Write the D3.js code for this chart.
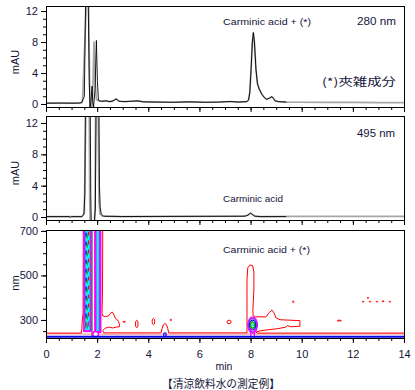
<!DOCTYPE html>
<html><head><meta charset="utf-8">
<script src="https://cdn.jsdelivr.net/npm/d3@7"></script>
<style>
body{margin:0;background:#fff}
svg{display:block}
text{font-family:"Liberation Sans",Arial,sans-serif;fill:#14143a}
</style>
</head><body>
<svg id="c" width="415" height="390"></svg>
<script>
// ---------- data ----------
const xTickLabels = [0,2,4,6,8,10,12,14];
const mauTicks = [0,4,8,12];
const nmTickLabels = [300,500,700];

// 280 nm chromatogram (time min, mAU)
const trace280Black = [[0,0.10],[0.6,0.12],[1.0,0.10],[1.30,0.12],[1.40,0.2],[1.50,1],[1.55,14],[1.65,14],[1.69,3],[1.72,-0.5],[1.76,0.3],[1.80,2.3],[1.83,0.3],[1.86,-0.4],[1.92,2],[1.97,8.2],[2.01,3],[2.05,0.5],[2.15,0.35],[2.35,0.4],[2.50,0.3],[2.62,0.4],[2.74,0.65],[2.86,0.35],[3.10,0.3],[3.30,0.35],[3.60,0.4],[3.80,0.28],[4.30,0.25],[5.00,0.22],[5.60,0.28],[6.20,0.22],[6.80,0.25],[7.20,0.32],[7.50,0.25],[7.85,0.3],[7.92,0.5],[7.97,1.5],[8.02,4.5],[8.07,8.0],[8.11,9.2],[8.15,8.0],[8.21,4.5],[8.27,2.6],[8.34,1.9],[8.45,1.2],[8.55,0.8],[8.63,0.6],[8.73,0.75],[8.83,0.95],[8.90,0.7],[8.96,0.4],[9.10,0.3],[9.40,0.25]];
const trace280Gray = [[0,0.10],[1.0,0.10],[1.40,0.15],[1.43,0.5],[1.59,14],[1.66,14],[1.71,2],[1.74,-0.6],[1.80,-0.6],[1.84,3],[1.88,8.0],[1.92,3],[1.97,0.6],[2.05,0.4],[2.15,0.35],[2.35,0.4],[2.50,0.3],[2.62,0.4],[2.74,0.65],[2.86,0.35],[3.10,0.3],[3.30,0.35],[3.60,0.4],[3.80,0.28],[4.30,0.25],[5.00,0.22],[5.60,0.28],[6.20,0.22],[6.80,0.25],[7.20,0.32],[7.50,0.25],[7.85,0.3],[7.92,0.5],[7.97,1.5],[8.02,4.5],[8.07,8.0],[8.11,9.2],[8.15,8.0],[8.21,4.5],[8.27,2.6],[8.34,1.9],[8.45,1.2],[8.55,0.8],[8.63,0.6],[8.73,0.75],[8.83,0.95],[8.90,0.7],[8.96,0.4],[9.10,0.3],[9.40,0.25],[10,0.22],[11,0.2],[12,0.2],[13,0.18],[14,0.18]];

// 495 nm chromatogram
const trace495Black = [[0,0.05],[0.9,0.05],[0.95,-0.03],[1.0,0.05],[1.40,0.05],[1.48,0.3],[1.52,3],[1.54,14],[1.73,14],[1.75,3],[1.77,-1],[1.88,-1],[1.93,1],[1.96,14],[2.07,14],[2.09,4],[2.12,1.2],[2.16,0.4],[2.25,0.1],[3.0,0.06],[7.7,0.1],[7.80,0.12],[7.90,0.25],[8.00,0.5],[8.08,0.3],[8.17,0.1],[8.40,0.05],[9.4,0.05]];
const trace495Gray = [[0,0.05],[1.40,0.05],[1.50,0.5],[1.56,14],[1.69,14],[1.71,2],[1.73,-1],[1.90,-1],[1.92,3],[1.94,14],[2.04,14],[2.07,2],[2.11,0.4],[2.2,0.1],[3.0,0.06],[7.7,0.1],[7.80,0.12],[7.90,0.25],[8.00,0.5],[8.08,0.3],[8.17,0.1],[8.40,0.05],[10,0.08],[12,0.08],[14,0.08]];

// contour plot (time min, wavelength nm)
const redLeft = [[0,241],[1.38,241],[1.40,258],[1.42,300],[1.45,330],[1.46,720]];
const redRight = [[2.22,720],[2.21,420],[2.19,330],[2.22,318],[2.32,315],[2.45,318],[2.53,331],[2.60,335],[2.66,322],[2.72,306],[2.80,300],[2.86,286],[2.88,270],[2.75,268],[2.60,264],[2.45,268],[2.30,262],[2.22,252],[2.26,242],[3.10,242],[4.50,242],[4.54,262],[4.59,279],[4.65,284],[4.71,279],[4.76,262],[4.80,242],[7.86,242],[7.86,300],[7.86,390],[7.86,480],[7.89,534],[7.98,547],[8.08,544],[8.13,516],[8.13,435],[8.11,390],[8.09,345],[8.10,320],[8.20,314],[8.60,314],[8.74,334],[8.84,344],[8.92,331],[8.99,310],[9.15,301],[9.54,299],[9.93,297],[9.93,272],[9.70,270],[9.54,270],[9.45,275],[9.38,268],[9.07,261],[8.68,256],[8.37,251],[8.22,246],[8.26,241],[14,241]];
const pinkBase = [[0,237],[1.40,237],[2.2,236],[14,237]];
const blueBase = [[0,225],[14,225]];
// columns of the early-eluting peaks [t0, t1, lower nm]
const columnBands = [[1.49,1.76,250],[1.92,2.13,246]];
// inner lines inside the columns [t, lower nm, colour]
const columnLines = [[1.52,262,"#9933ff"],[1.57,270,"#0000ff"],[1.61,262,"#00b000"],[1.66,275,"#ff0000"],[1.73,255,"#9933ff"],[1.95,255,"#ff00ff"],[2.09,250,"#9933ff"],[1.80,226,"#666666"]];
// closed loops [t, nm, half-width min, half-height nm, colour, stroke width, fill]
const loops = [
 [3.55,282,0.05,17,"#ff0000",1,"none"],
 [4.20,293,0.05,14,"#ff0000",1,"none"],
 [7.16,291,0.08,8,"#ff0000",1,"none"],
 [3.06,292,0.05,2,"#ff0000",1,"none"],
 [4.88,300,0.03,3,"#ff0000",1,"none"],
 [9.67,382,0.03,3,"#ff0000",1,"none"],
 [11.47,297,0.08,2,"#ff0000",1,"none"],
 [12.40,382,0.03,2,"#ff0000",1,"none"],
 [12.59,399,0.03,2,"#ff0000",1,"none"],
 [12.67,382,0.03,2,"#ff0000",1,"none"],
 [12.94,382,0.03,2,"#ff0000",1,"none"],
 [13.18,384,0.04,2,"#ff0000",1,"none"],
 [13.45,382,0.03,2,"#ff0000",1,"none"],
 [4.65,234,0.05,8,"#0000ff",1.2,"none"],
 [1.55,282,0.05,12,"#888888",1,"none"],
 [1.70,282,0.05,12,"#9933ff",1,"none"],
 [1.94,236,0.11,12,"#ff00ff",1.5,"#ffffff"],
 [8.08,277,0.19,37,"#ff00ff",1.2,"none"],
 [8.08,277,0.16,31,"#9933ff",1.5,"none"],
 [8.08,277,0.12,22,"#0000ff",1.2,"none"],
 [8.08,277,0.08,14,"#00b000",1.5,"none"],
 [8.08,277,0.03,5,"#00cccc",1,"none"]
];
const stems = [[[8.01,262],[8.01,219]],[[8.15,262],[8.15,219]]];

// ---------- drawing ----------
const svg = d3.select('#c');
const X0 = 46, X1 = 404;
const x = d3.scaleLinear().domain([0,14]).range([X0,X1]);
const y1 = d3.scaleLinear().domain([-0.39,12.65]).range([107,6]);
const y2 = d3.scaleLinear().domain([-0.383,12.89]).range([220,116]);
const y3 = d3.scaleLinear().domain([219,704]).range([338,230]);

function addClip(id,y){
  svg.append('clipPath').attr('id',id).append('rect')
    .attr('x',X0).attr('y',y.range()[1]).attr('width',X1-X0).attr('height',y.range()[0]-y.range()[1]);
}
addClip('c1',y1); addClip('c2',y2); addClip('c3',y3);

const xMinor = d3.range(0,14.001,0.5);
function axes(y, majors, minors, showXLabels){
  const bottom = y.range()[0];
  svg.append('g').attr('transform',`translate(0,${bottom})`)
    .call(d3.axisBottom(x).tickValues(xMinor).tickSize(3).tickFormat(''))
    .call(g=>g.select('.domain').remove());
  const gx = svg.append('g').attr('transform',`translate(0,${bottom})`)
    .call(d3.axisBottom(x).tickValues(xTickLabels).tickSize(5).tickPadding(7)
      .tickFormat(showXLabels ? d3.format('d') : ''))
    .call(g=>g.select('.domain').remove());
  gx.selectAll('text').attr('font-size',11).attr('font-family',null);
  svg.append('g').attr('transform',`translate(${X0},0)`)
    .call(d3.axisLeft(y).tickValues(minors).tickSize(3).tickFormat(''))
    .call(g=>g.select('.domain').remove());
  const gy = svg.append('g').attr('transform',`translate(${X0},0)`)
    .call(d3.axisLeft(y).tickValues(majors).tickSize(5).tickPadding(3).tickFormat(d3.format('d')))
    .call(g=>g.select('.domain').remove());
  gy.selectAll('text').attr('font-size',11).attr('font-family',null);
}

function frame(y){
  svg.append('rect').attr('x',X0+0.5).attr('y',y.range()[1]+0.5)
    .attr('width',X1-X0).attr('height',y.range()[0]-y.range()[1])
    .attr('fill','none').attr('stroke','#000').attr('stroke-width',1);
}

function trace(data,y,clip,color,w){
  svg.append('path').datum(data).attr('clip-path',`url(#${clip})`)
    .attr('fill','none').attr('stroke',color).attr('stroke-width',w).attr('stroke-linejoin','round')
    .attr('d',d3.line().x(d=>x(d[0])).y(d=>y(d[1])));
}

// panel 1
trace(trace280Gray,y1,'c1','#a6a6a6',1.7);
trace(trace280Black,y1,'c1','#000',0.9);
axes(y1,mauTicks,d3.range(0,12.001,1),false);
frame(y1);

// panel 2
trace(trace495Gray,y2,'c2','#a6a6a6',1.7);
trace(trace495Black,y2,'c2','#000',0.9);
axes(y2,mauTicks,d3.range(0,12.001,1),false);
frame(y2);

// panel 3 contours
const g3 = svg.append('g').attr('clip-path','url(#c3)');
const cl = d3.line().x(d=>x(d[0])).y(d=>y3(d[1]));
g3.append('path').datum(pinkBase).attr('d',cl).attr('fill','none').attr('stroke','#ff8a8a').attr('stroke-width',1);
g3.append('path').datum(redLeft).attr('d',cl).attr('fill','none').attr('stroke','#ff0000').attr('stroke-width',1);
g3.append('path').datum(redRight).attr('d',cl).attr('fill','none').attr('stroke','#ff0000').attr('stroke-width',1);
g3.selectAll('rect.col').data(columnBands).join('rect').attr('class','col')
  .attr('x',d=>x(d[0])).attr('width',d=>x(d[1])-x(d[0]))
  .attr('y',y3(720)).attr('height',d=>y3(d[2])-y3(720))
  .attr('fill','#00ffff').attr('stroke','#ff00ff').attr('stroke-width',2);
g3.selectAll('path.cline').data(columnLines).join('path').attr('class','cline')
  .attr('d',d=>cl([[d[0],d[1]],[d[0],720]]))
  .attr('fill','none').attr('stroke',d=>d[2]).attr('stroke-width',1.3)
  .attr('stroke-dasharray',(d,i)=> (i>=1 && i<=3) ? '4,5' : null);
g3.selectAll('ellipse').data(loops).join('ellipse')
  .attr('cx',d=>x(d[0])).attr('cy',d=>y3(d[1]))
  .attr('rx',d=>x(d[0]+d[2])-x(d[0])).attr('ry',d=>y3(d[1])-y3(d[1]+d[3]))
  .attr('fill',d=>d[6]).attr('stroke',d=>d[4]).attr('stroke-width',d=>d[5]);
g3.selectAll('path.stem').data(stems).join('path').attr('class','stem')
  .attr('d',cl).attr('fill','none').attr('stroke','#ff00ff').attr('stroke-width',1.2);
g3.append('path').datum(blueBase).attr('d',cl).attr('fill','none').attr('stroke','#0a0ae6').attr('stroke-width',2);
axes(y3,nmTickLabels,d3.range(250,700.001,50),true);
frame(y3);

// ---------- texts ----------
function label(t,xp,yp,size,anchor,len){
  const e = svg.append('text').attr('x',xp).attr('y',yp).attr('font-size',size)
    .attr('text-anchor',anchor||'start').text(t);
  if(len) e.attr('textLength',len).attr('lengthAdjust','spacingAndGlyphs');
  return e;
}
label('Carminic acid + (*)',223,25,9.5,'start',88);
label('280 nm',357,25,11,'start',39);
label('(*)夾雑成分',322,86,11,'start',74).style('font-family','"Noto Sans CJK JP",sans-serif');
label('495 nm',357,137,11,'start',38);
label('Carminic acid',223,202,9.5,'start',60);
label('Carminic acid + (*)',223,253,9.5,'start',87);
label('min',224,370,10.5,'middle');
label('【清涼飲料水の測定例】',221,388,11,'middle',118).style('font-family','"Noto Sans CJK JP",sans-serif');
[[62,'mAU'],[173,'mAU'],[283,'nm']].forEach(([cy,t])=>{
  svg.append('text').attr('transform',`translate(19,${cy}) rotate(-90)`)
    .attr('text-anchor','middle').attr('font-size',11).text(t);
});
</script>
</body></html>
